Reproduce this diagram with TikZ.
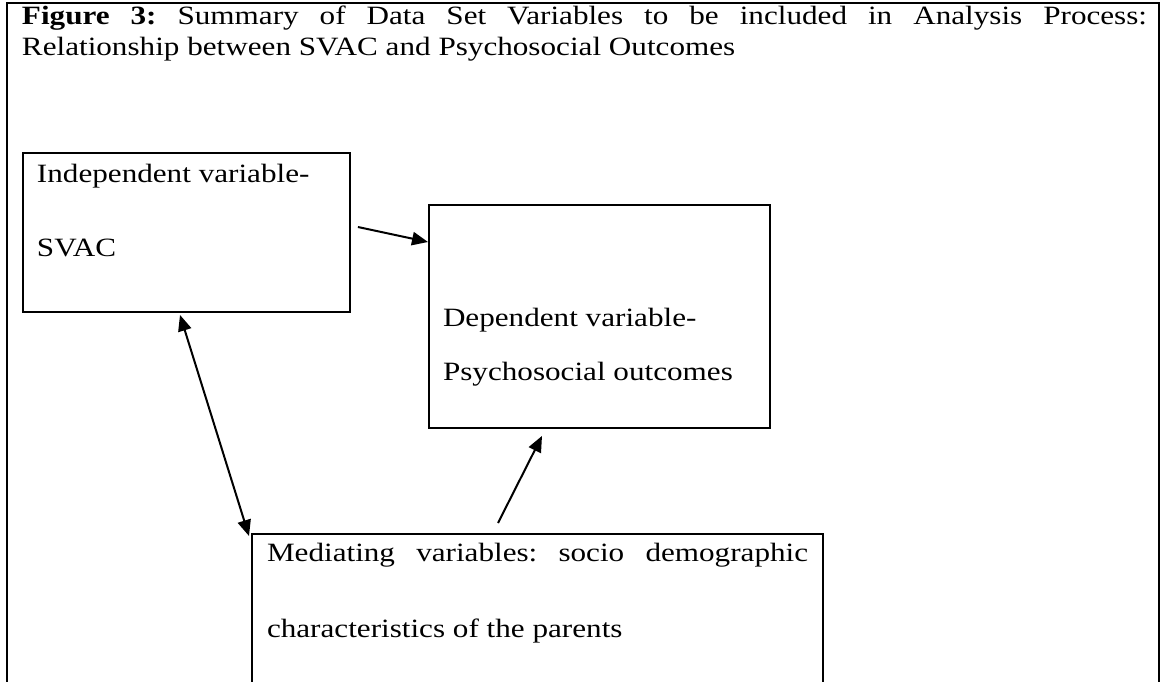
\documentclass[tikz,border=0pt]{standalone}
\usepackage{fontspec}
\setmainfont{Liberation Serif}[FakeStretch=1.18]
\frenchspacing
\usetikzlibrary{arrows.meta,positioning,calc}

\begin{document}
\begin{tikzpicture}[x=0.375pt,y=-0.375pt,font=\fontsize{9.9}{11.6}\selectfont,line width=0.75pt,
  varbox/.style={draw,rectangle,anchor=north west,inner sep=0pt},
  boxtext/.style={anchor=base west,inner sep=0pt,align=left},
  link/.style={-{Triangle[length=6pt,width=5pt]},line width=0.75pt},
  twolink/.style={{Triangle[length=6pt,width=5pt]}-{Triangle[length=6pt,width=5pt]},line width=0.75pt}]
  \clip (0,0) rectangle (1165,681);
  \fill[white] (0,0) rectangle (1165,681);
  % frame, open at the bottom
  \draw (7,760) -- (7,3) -- (1159,3) -- (1159,760);
  \node[anchor=base west,inner sep=0pt,text width=421.9pt,align=justify,font=\fontsize{9.9}{11.6}\selectfont] (title) at (21,25)
    {\textbf{Figure 3:} Summary of Data Set Variables to be included in Analysis Process:\linebreak Relationship between SVAC and Psychosocial Outcomes};
  % boxes
  \node[varbox,minimum width=122.6pt,minimum height=59.6pt] (indep) at (22,152) {};
  \node[varbox,minimum width=127.9pt,minimum height=83.6pt] (dep) at (428,204) {};
  \node[varbox,minimum width=214.1pt,minimum height=112.5pt] (med) at (251,533) {};
  \node[boxtext,font=\fontsize{9.9}{27.75}\selectfont] (indeptext) at (36,256) {Independent variable-\\SVAC};
  \node[boxtext,font=\fontsize{9.9}{19.9}\selectfont] (deptext) at (442,380) {Dependent variable-\\Psychosocial outcomes};
  \node[boxtext,text width=202.9pt,align=justify,font=\fontsize{9.9}{28.5}\selectfont] (medtext) at (266,561)
    {Mediating variables: socio demographic\linebreak characteristics of the parents};
  % arrows
  \draw[link] ($(indep.north east)+(7,75)$) -- ($(dep.north west)+(0,38)$);
  \draw[link] ($(med.north west)+(247,-10)$) -- ($(dep.south west)+(114,7)$);
  \draw[twolink] ($(indep.south west)+(158,2)$) -- ($(med.north west)+(-2,3)$);
\end{tikzpicture}
\end{document}
